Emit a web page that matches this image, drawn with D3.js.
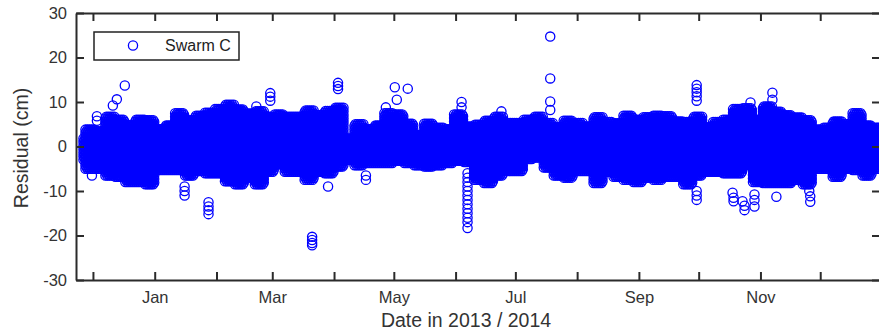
<!DOCTYPE html>
<html>
<head>
<meta charset="utf-8">
<script src="https://cdn.jsdelivr.net/npm/d3@7"></script>
<style>
  html, body { margin: 0; padding: 0; background: #fff; }
  svg { display: block; font-family: "Liberation Sans", Arial, sans-serif; }
</style>
</head>
<body>
<svg id="chart" width="879" height="331"></svg>
<script>
// ---------------- DATA ----------------
// Dense band of residuals: upper / lower envelope (cm) for consecutive 5-day bins,
// first bin starting on 2013-11-22 (Swarm launch).
const bandHigh = [2, 4, 3.5, 7, 6, 5, 6, 6, 4, 5, 7.8, 6, 7, 7.7, 8.5, 9.5, 8.5, 7.7, 8, 7,
                  7.3, 7, 7, 8.4, 7.3, 8, 8.8, 2, 5, 4, 5, 7.8, 7.3, 5.2, 2.6, 5.2, 4.5, 4, 7.3, 4.5,
                  5, 6, 6.8, 5.5, 5.5, 6.3, 6.7, 5.5, 4.6, 6, 5.5, 4.6, 6.8, 5.7, 5.5, 7.2, 6.2, 6.7, 7.2, 7,
                  5.7, 5.7, 7, 4.6, 5.7, 6, 8.4, 8.8, 6, 9.3, 7.8, 7.2, 6.5, 6, 4, 4.3, 5.7, 5, 7.5, 5, 4.5];
const bandLow  = [-3, -5, -5, -6.5, -6.8, -8, -8, -8.5, -5.3, -5.3, -5.3, -6.5, -5.5, -6, -6, -7.8, -8.5, -7, -8.5, -5.7,
                  -4, -5.7, -5.7, -7.5, -5.7, -6, -4.5, -3, -4.2, -3.7, -3.7, -3.7, -3.2, -3.7, -4.2, -4.5, -4.2, -3.7, -3.2, -3.5,
                  -7.5, -8.2, -6.5, -5.5, -5.5, -2.8, -2.5, -4.7, -6.5, -7, -5.5, -5.5, -8.2, -5.7, -6.8, -7.5, -8, -7, -7.5, -6.8,
                  -6.8, -8.5, -6.5, -5.7, -5.7, -6, -6, -4.2, -8, -8.2, -8.2, -8.2, -7.5, -8.5, -5, -5, -6.8, -5, -5.3, -6.5, -5];
const binDays = 5;
const firstDay = 4;     // first day with data (days after 2013-11-22)
const lastDay = 403;

// Isolated points outside the band: day offset (after 2013-11-22) and residual (cm)
const outlierDay = [11, 11, 8.5, 19, 21, 25,
                    55, 55, 55, 67, 67, 67, 67,
                    91, 98, 98, 98,
                    119, 119, 119, 119, 127,
                    132, 132, 132, 146, 146,
                    156, 161.5, 160.5, 167, 194, 194,
                    197, 197, 197, 197, 197, 197, 197, 197, 197, 197, 197, 197, 197,
                    214, 238.5, 238.5, 238.5, 238.5,
                    312, 312, 312, 312, 312, 312, 312, 312,
                    330, 330.5, 330.5, 335, 336, 336, 339, 341, 341, 341,
                    350, 350, 352, 368.5, 369, 369];
const outlierValue = [6.8, 5.8, -6.5, 9.2, 10.6, 13.7,
                      -9, -10, -11, -12.5, -13.5, -14.3, -15.2,
                      9, 12, 11.2, 10.3,
                      -20.3, -21, -21.7, -22.2, -9,
                      14.3, 13.6, 12.9, -6.5, -7.5,
                      8.8, 10.5, 13.3, 13, 10, 8.8,
                      -6, -7, -8, -9, -10, -11, -12, -13, -14, -15, -16, -17, -18.3,
                      7.9, 24.7, 15.3, 10.1, 8.2,
                      13.8, 13, 12.2, 11.3, 10.3, -10, -11, -12,
                      -10.4, -11.5, -12.3, -12.3, -13.3, -14.3, 9.9, -10.8, -12, -13.5,
                      12.1, 10.5, -11.3, -10, -11.2, -12.4];

const yTicks = [-30, -20, -10, 0, 10, 20, 30];
const monthLabels = ["Jan", "Mar", "May", "Jul", "Sep", "Nov"];
const seriesName = "Swarm C";

// ---------------- CHART ----------------
const svg = d3.select("#chart");
const margin = {left: 76, top: 13, right: 880, bottom: 280};
const startDate = new Date(2013, 10, 22);
const dayDate = d => new Date(startDate.getTime() + d * 86400000);

const x = d3.scaleTime()
  .domain([new Date(2013, 10, 22, 12), new Date(2014, 11, 31, 0)])
  .range([margin.left, margin.right]);
const y = d3.scaleLinear().domain([-30, 30]).range([margin.bottom, margin.top]);

const axisColor = "#2b2b2b";
const textColor = "#333";
const blue = "#0000ff";

svg.append("defs").append("clipPath").attr("id", "clip")
  .append("rect")
  .attr("x", margin.left).attr("y", margin.top)
  .attr("width", margin.right - margin.left).attr("height", margin.bottom - margin.top);

// build band points from the envelope arrays (two samples per day)
const pts = [];
bandHigh.forEach((hi, k) => {
  const lo = bandLow[k];
  for (let d = k * binDays; d < (k + 1) * binDays; d++) {
    if (d < firstDay || d > lastDay) continue;
    [0.25, 0.75].forEach((frac, j) => {
      const start = lo + (j ? 0.4 : 0);
      for (let v = start; v <= hi + 1e-9; v += 0.8) pts.push({d: d + frac, v});
    });
  }
});
outlierDay.forEach((d, i) => pts.push({d, v: outlierValue[i]}));

svg.append("g").attr("clip-path", "url(#clip)")
  .selectAll("circle").data(pts).join("circle")
  .attr("cx", p => x(dayDate(p.d)))
  .attr("cy", p => y(p.v))
  .attr("r", 4.6)
  .attr("fill", "none")
  .attr("stroke", blue)
  .attr("stroke-width", 1.3);

// axes
const monthTicks = d3.timeMonth.range(new Date(2013, 11, 1), new Date(2014, 11, 2));
const fmt = d3.timeFormat("%b");
const xFormat = d => monthLabels.includes(fmt(d)) ? fmt(d) : "";

const gx = svg.append("g").attr("transform", `translate(0,${margin.bottom})`)
  .call(d3.axisBottom(x).tickValues(monthTicks).tickFormat(xFormat)
    .tickSizeInner(-8).tickSizeOuter(0).tickPadding(11));
const gxTop = svg.append("g").attr("transform", `translate(0,${margin.top})`)
  .call(d3.axisTop(x).tickValues(monthTicks).tickFormat("")
    .tickSizeInner(-8).tickSizeOuter(0));
const gy = svg.append("g").attr("transform", `translate(${margin.left},0)`)
  .call(d3.axisLeft(y).tickValues(yTicks).tickFormat(d => String(d))
    .tickSizeInner(-8).tickSizeOuter(0).tickPadding(9));
const gyR = svg.append("g").attr("transform", `translate(${margin.right},0)`)
  .call(d3.axisRight(y).tickValues(yTicks).tickFormat("")
    .tickSizeInner(-8).tickSizeOuter(0));

[gx, gxTop, gy, gyR].forEach(g => {
  g.select(".domain").attr("stroke", axisColor).attr("stroke-width", 2);
  g.selectAll(".tick line").attr("stroke", axisColor).attr("stroke-width", 2);
  g.selectAll(".tick text").attr("fill", textColor)
    .style("font-size", "16.5px").style("font-family", '"Liberation Sans", Arial, sans-serif');
});

// axis titles
svg.append("text")
  .attr("x", 466).attr("y", 327)
  .attr("text-anchor", "middle")
  .attr("fill", textColor)
  .style("font-size", "19.5px")
  .text("Date in 2013 / 2014");

svg.append("text")
  .attr("transform", "translate(28,148) rotate(-90)")
  .attr("text-anchor", "middle")
  .attr("fill", textColor)
  .style("font-size", "19.5px")
  .text("Residual (cm)");

// legend
const lg = svg.append("g");
lg.append("rect")
  .attr("x", 94).attr("y", 32).attr("width", 145).attr("height", 28)
  .attr("fill", "#fff").attr("stroke", "#222").attr("stroke-width", 1.5);
lg.append("circle")
  .attr("cx", 133).attr("cy", 45.5).attr("r", 4.6)
  .attr("fill", "none").attr("stroke", blue).attr("stroke-width", 1.3);
lg.append("text")
  .attr("x", 165).attr("y", 51)
  .attr("fill", "#222")
  .style("font-size", "16px")
  .text(seriesName);
</script>
</body>
</html>
